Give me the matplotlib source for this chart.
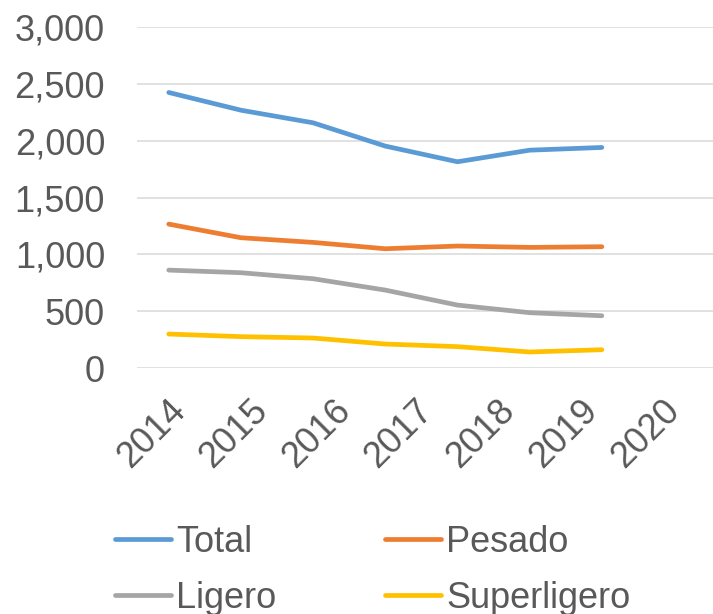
import matplotlib
matplotlib.use("Agg")
import matplotlib.pyplot as plt
from matplotlib.ticker import FuncFormatter
from matplotlib.transforms import ScaledTranslation

years = ['2014', '2015', '2016', '2017', '2018', '2019', '2020']
total = [2426, 2270, 2159, 1954, 1816, 1918, 1942]
pesado = [1267, 1147, 1106, 1050, 1074, 1062, 1068]
ligero = [862, 839, 786, 686, 554, 487, 460]
superligero = [299, 276, 264, 211, 188, 141, 161]

series = [('Total', total, '#5B9BD5'),
          ('Pesado', pesado, '#ED7D31'),
          ('Ligero', ligero, '#A5A5A5'),
          ('Superligero', superligero, '#FFC000')]

plt.rcParams['font.family'] = ['Liberation Sans', 'DejaVu Sans']
text_color = '#595959'

fig = plt.figure(figsize=(7.13, 6.14), dpi=100)
ax = fig.add_axes([137 / 713, 1 - 368 / 614, 1 - 137 / 713, (368 - 27.3) / 614])

x = list(range(len(years)))
lines = {}
for name, vals, color in series:
    lines[name], = ax.plot(x, vals, color=color, linewidth=3.4,
                           solid_capstyle='round', label=name)

ax.set_ylim(0, 3000)
ax.set_yticks(range(0, 3001, 500))
ax.yaxis.set_major_formatter(FuncFormatter(lambda v, p: f'{int(v):,}'))
ax.set_xlim(-0.44, 7.54)
ax.set_xticks([])

# year labels sit on their own category axis spanning the full width
ax_lab = ax.twiny()
ax_lab.set_xlim(-0.5, len(years) - 0.5)
ax_lab.xaxis.tick_bottom()
ax_lab.set_xticks(x)
ax_lab.set_xticklabels(years, rotation=45, ha='right', rotation_mode='anchor')
ax_lab.tick_params(axis='x', length=0, pad=18, labelsize=26, labelcolor=text_color)
shift = ScaledTranslation(-10 / 100, 0, fig.dpi_scale_trans)
for lab in ax_lab.get_xticklabels():
    lab.set_transform(lab.get_transform() + shift)

ax.grid(axis='y', color='#D9D9D9', linewidth=1.1)
ax.set_axisbelow(True)
for a in (ax, ax_lab):
    for s in a.spines.values():
        s.set_visible(False)
ax.tick_params(axis='y', length=0, pad=23, labelsize=26, labelcolor=text_color)

order = ['Total', 'Ligero', 'Pesado', 'Superligero']
fig.legend([lines[n] for n in order], order, loc='upper left',
           bbox_to_anchor=(115 / 713, 1 - 525 / 614), ncol=2,
           frameon=False, fontsize=26, labelcolor=text_color,
           handlelength=1.55, handletextpad=0.15, columnspacing=3.0,
           labelspacing=0.58, borderpad=0, borderaxespad=0)

fig.savefig('out.png', dpi=100)
